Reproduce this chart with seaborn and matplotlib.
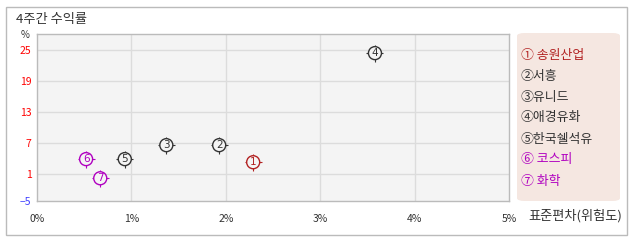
import matplotlib
matplotlib.use("Agg")
import matplotlib.pyplot as plt
from matplotlib.patches import Rectangle, FancyBboxPatch
import seaborn as sns
import pandas as pd

sns.set_style("white")
plt.rcParams['font.family'] = ['Noto Sans CJK KR', 'DejaVu Sans']

# ---- data ----
labels = ["1", "2", "3", "4", "5", "6", "7"]
names = ["① 송원산업", "②서흥", "③유니드", "④애경유화", "⑤한국쉘석유", "⑥ 코스피", "⑦ 화학"]
risk = [2.29, 1.93, 1.37, 3.58, 0.93, 0.52, 0.67]      # 표준편차 (%)
ret = [3.3, 6.6, 6.6, 24.4, 3.9, 3.9, 0.2]             # 4주간 수익률 (%)
colors = ["#b22222", "#333333", "#333333", "#333333", "#333333", "#b000c0", "#b000c0"]
xticks = [0, 1, 2, 3, 4, 5]
xticklabels = ["0%", "1%", "2%", "3%", "4%", "5%"]
yticks = [1, 7, 13, 19, 25]
yticklabels = ["1", "7", "13", "19", "25"]

df = pd.DataFrame({"label": labels, "risk": risk, "ret": ret})
pal = dict(zip(labels, colors))

W, H = 638, 242
fig = plt.figure(figsize=(W / 100, H / 100), dpi=100)

def fx(px): return px / W
def fy(py): return 1 - py / H

# outer frame
fig.patches.append(Rectangle((fx(6), fy(235)), fx(627) - fx(6), fy(7) - fy(235),
                             transform=fig.transFigure, fill=False, edgecolor="#bbbbbb", lw=1))

ax = fig.add_axes([fx(37), fy(201), fx(509) - fx(37), fy(34) - fy(201)])
ax.set_facecolor("#f4f4f4")
ymin, ymax = -4.2, 28.1
ax.set_xlim(0, 5)
ax.set_ylim(ymin, ymax)
for v in [1, 2, 3, 4]:
    ax.axvline(v, color="#dcdcdc", lw=1, zorder=0)
for v in yticks:
    ax.axhline(v, color="#dcdcdc", lw=1, zorder=0)
for s in ax.spines.values():
    s.set_color("#bbbbbb")
    s.set_linewidth(1)

# markers
sns.scatterplot(data=df, x="risk", y="ret", hue="label", palette=pal, marker="+",
                s=150, linewidth=0.8, legend=False, ax=ax, zorder=3)
sns.scatterplot(data=df, x="risk", y="ret", hue="label", palette=pal, marker="o",
                s=88, linewidth=1.0, legend=False, ax=ax, zorder=4)
ax.collections[1].set_edgecolor(colors)
ax.collections[1].set_facecolor("#f4f4f4")
for l, x, y, c in zip(labels, risk, ret, colors):
    ax.text(x, y, l, ha="center", va="center", fontsize=7.5, color=c, zorder=5,
            family=["DejaVu Sans"])

ax.set_xticks(xticks)
ax.set_xticklabels(xticklabels, fontsize=7.5, color="#333333")
ax.set_yticks([ymin] + yticks)
ax.set_yticklabels(["−5"] + yticklabels, fontsize=7.5)
for t in ax.get_yticklabels():
    t.set_color("red")
ax.get_yticklabels()[0].set_color("#4040ff")
ax.tick_params(axis="y", length=0, pad=4)
ax.tick_params(axis="x", length=0, pad=9)
ax.set_xlabel("")
ax.set_ylabel("")

# texts
fig.text(fx(16), fy(20), "4주간 수익률", fontsize=9.5, color="#333333", va="center", ha="left")
fig.text(fx(25), fy(35), "%", fontsize=7, color="#333333", va="center", ha="center")
fig.text(fx(528), fy(216), "표준편차(위험도)", fontsize=9.5, color="#333333", va="center", ha="left")

# legend box
fig.patches.append(FancyBboxPatch((fx(517), fy(201)), fx(620) - fx(517), fy(33) - fy(201),
                                  boxstyle="round,pad=0,rounding_size=0.012",
                                  transform=fig.transFigure, facecolor="#f5e7e1",
                                  edgecolor="none"))
ys = [55, 76, 97, 118, 139, 160, 181]
for n, c, y in zip(names, colors, ys):
    fig.text(fx(521), fy(y), n, fontsize=9.3, color=c, va="center", ha="left")

fig.savefig("out.png", dpi=100)
